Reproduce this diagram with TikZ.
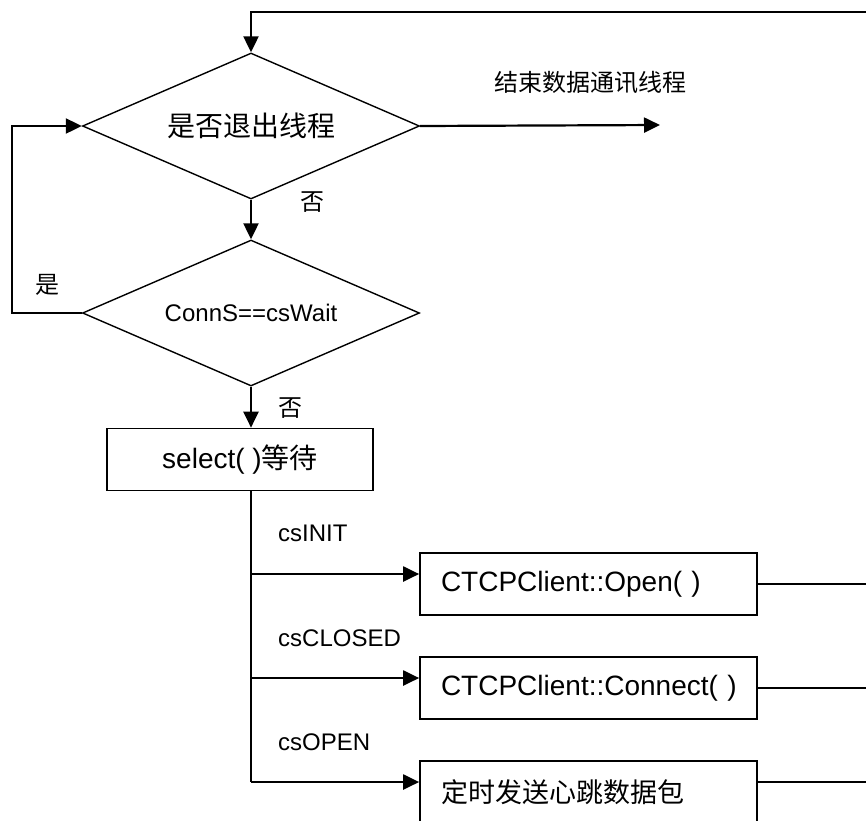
\documentclass[tikz,border=0pt]{standalone}
\usepackage{fontspec}
\setmainfont{Liberation Sans}
\newfontfamily\cjk{Noto Sans CJK SC}
\usetikzlibrary{shapes.geometric,arrows.meta}
\begin{document}
\begin{tikzpicture}[x=1pt,y=-1pt,
  conn/.style={line width=2.2pt},
  arr/.style={conn,-{Triangle[length=16pt,width=15pt]}},
  dia/.style={diamond,draw,line width=1.4pt,shape aspect=2.3,minimum width=337pt,minimum height=146pt,inner sep=0pt},
  box/.style={draw,line width=1.7pt,minimum height=62pt,inner sep=0pt},
  bbox/.style={box,minimum width=337pt,text width=295pt,align=left,inner xsep=21pt,font=\fontsize{28}{32}\selectfont},
  rline/.style={line width=1.5pt},
  lbl/.style={font=\fontsize{24}{28}\selectfont,inner sep=0pt},
  clbl/.style={font=\cjk\fontsize{24}{28}\selectfont,inner sep=0pt}
]
\useasboundingbox (0,0) rectangle (866,820);
\clip (0,0) rectangle (866,820);

% nodes
\node[dia,font=\cjk\fontsize{28}{32}\selectfont] (d1) at (251,126) {是否退出线程};
\node[dia,font=\fontsize{24}{28}\selectfont] (d2) at (251,313) {ConnS==csWait};
\node[box,minimum width=266pt,font=\fontsize{28}{32}\selectfont] (sel) at (240,459.5) {select(~){\cjk 等待}};
\node[bbox] (b1) at (588.5,584) {CTCPClient::Open(~)};
\node[bbox] (b2) at (588.5,688) {CTCPClient::Connect(~)};
\node[bbox,font=\cjk\fontsize{27}{32}\selectfont] (b3) at (588.5,792) {定时发送心跳数据包};

% labels
\node[lbl,anchor=west] (l1) at (278,533) {csINIT};
\node[lbl,anchor=west] (l2) at (278,638) {csCLOSED};
\node[lbl,anchor=west] (l3) at (278,742) {csOPEN};
\node[clbl] (no1) at (312,202) {否};
\node[clbl] (no2) at (290,408) {否};
\node[clbl] (yes) at (47,285) {是};
\node[clbl] (exitlbl) at (590,83) {结束数据通讯线程};

% coordinates
\coordinate (topR) at (866,12);
\coordinate (topL) at (251,12);
\coordinate (exitE) at (660,125);
\coordinate (loopB) at (12,313);
\coordinate (loopT) at (12,126);
\coordinate (br1) at (251,574);
\coordinate (br2) at (251,678);
\coordinate (br3) at (251,782);
\coordinate (R) at (866,0);

% connectors
\draw[arr] (topR) -- (topL) -- (d1.north);
\draw[arr] (d1.east) -- (exitE);
\draw[arr] (d1.south) -- (d2.north);
\draw[arr] (d2.west) -- (loopB) -- (loopT) -- (d1.west);
\draw[arr] (d2.south) -- (d2.south |- sel.north);
\draw[conn] (d2.south |- sel.south) -- (br3);
\draw[arr] (br1) -- (br1 -| b1.west);
\draw[arr] (br2) -- (br2 -| b2.west);
\draw[arr] (br3) -- (br3 -| b3.west);
\draw[rline] (b1.east) -- (b1.east -| R);
\draw[rline] (b2.east) -- (b2.east -| R);
\draw[rline] ([yshift=10pt]b3.east) -- ([yshift=10pt]b3.east -| R);
\end{tikzpicture}
\end{document}
